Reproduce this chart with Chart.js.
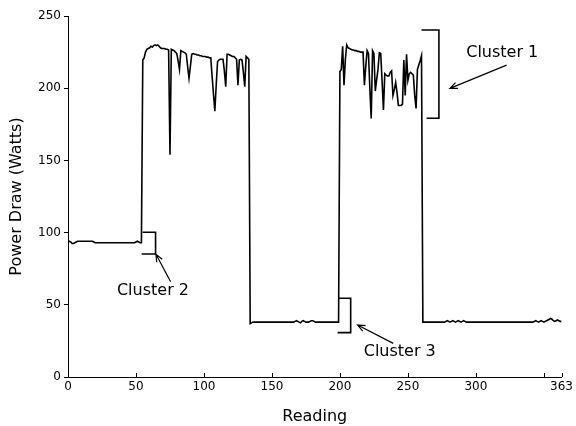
<!DOCTYPE html>
<html>
<head>
<meta charset="utf-8">
<script src="https://cdn.jsdelivr.net/npm/chart.js@4.4.1/dist/chart.umd.min.js"></script>
<style>
  html, body { margin: 0; padding: 0; background: #fff; }
  #wrap { width: 576px; height: 426px; }
</style>
</head>
<body>
<div id="wrap"><canvas id="powerChart" width="576" height="426"></canvas></div>
<script>
// readings 0-54
const idleStart = [
  94, 94, 93.5, 92.5, 92.5, 93, 93.5, 94, 94, 94,
  94, 94, 94, 94, 94, 94, 94, 94, 94, 93.5,
  93, 93, 93, 93, 93, 93, 93, 93, 93, 93,
  93, 93, 93, 93, 93, 93, 93, 93, 93, 93,
  93, 93, 93, 93, 93, 93, 93, 93, 93, 93,
  93.5, 94, 93.5, 93, 93
];
// readings 55-133
const burstOne = [
  219.5, 221, 225, 227, 227.5, 228, 229, 228.5, 229.5, 230,
  229.5, 230, 229, 228, 227.5, 227.5, 227.5, 227, 227, 226.5,
  154, 227, 226.5, 226, 225, 224, 219, 213, 226, 225.5,
  225, 224.5, 223.5, 215, 207, 215, 223.5, 224, 223.5, 223.5,
  223, 223, 222.5, 222.5, 222, 222, 222, 221.5, 221.5, 221,
  221, 208, 196, 184, 202, 218.5, 219.5, 220, 220, 220,
  212, 201, 223.5, 223.5, 223, 222.5, 222, 222, 221, 220,
  202, 219.5, 220, 219.5, 211, 201, 222, 221, 220
];
// readings 134-199
const idleMiddle = [
  37, 37.5, 38, 38, 38, 38, 38, 38, 38, 38,
  38, 38, 38, 38, 38, 38, 38, 38, 38, 38,
  38, 38, 38, 38, 38, 38, 38, 38, 38, 38,
  38, 38, 38, 38.5, 39, 38.5, 38, 37.5, 38.5, 39,
  38.5, 38, 38, 38, 38.5, 39, 39, 38.5, 38, 38,
  38, 38, 38, 38, 38, 38, 38, 38, 38, 38,
  38, 38, 38, 38, 38, 38
];
// readings 200-260
const burstTwo = [
  211.5, 213, 229, 202, 220, 230, 228, 227.5, 227, 226.5,
  226.5, 226, 226, 225.5, 225.5, 225, 225, 225, 202, 215,
  226, 224, 200, 179, 226, 224, 198, 206, 213, 224.5,
  224, 205, 185, 210, 209, 208.5, 208.5, 211, 212, 195,
  199, 204, 197, 188, 188, 188, 189, 219.5, 195, 223.5,
  205.5, 210, 211, 210, 209, 195, 186, 213, 216, 219, 222.5
];
// readings 261-363
const idleEnd = [
  38, 38, 38, 38, 38, 38, 38, 38, 38, 38,
  38, 38, 38, 38, 38, 38, 38, 38.5, 39, 38.5,
  38, 38.5, 39, 38.5, 38, 38.5, 39, 38.5, 38, 38.5,
  39, 38.5, 38, 38, 38, 38, 38, 38, 38, 38,
  38, 38, 38, 38, 38, 38, 38, 38, 38, 38,
  38, 38, 38, 38, 38, 38, 38, 38, 38, 38,
  38, 38, 38, 38, 38, 38, 38, 38, 38, 38,
  38, 38, 38, 38, 38, 38, 38, 38, 38, 38,
  38, 38, 38.5, 39, 38.5, 38, 38.5, 39, 38.5, 38,
  38.5, 39, 39.5, 40, 40.5, 40, 39, 38.5, 39, 39.5,
  39, 38.5, 38.5
];

const xTicks = [0, 50, 100, 150, 200, 250, 300, 350, 363];
const xHiddenLabels = [350];
const yTicks = [0, 50, 100, 150, 200, 250];

// bracket + arrow annotations, in data units
const clusters = [
  { label: 'Cluster 1', topFrom: 260, bottomFrom: 263.7, side: 272.8, top: 240.3, bottom: 179.2,
    arrowFrom: [322.6, 216], arrowTo: [280.9, 199.9], text: [319.4, 224.2] },
  { label: 'Cluster 2', topFrom: 54.9, bottomFrom: 54.2, side: 64.4, top: 100.2, bottom: 85.2,
    arrowFrom: [75.5, 66], arrowTo: [64.7, 85], text: [62.5, 59.8] },
  { label: 'Cluster 3', topFrom: 198.8, bottomFrom: 198.3, side: 207.9, top: 54.5, bottom: 30.7,
    arrowFrom: [239.2, 23.3], arrowTo: [213, 36], text: [244, 17.3] }
];

const power = idleStart.concat(burstOne, idleMiddle, burstTwo, idleEnd);
const points = power.map((v, i) => ({ x: i, y: v }));

const FONT = "'DejaVu Sans', sans-serif";

const clusterPlugin = {
  id: 'clusters',
  afterDraw(chart) {
    const { ctx, scales: { x, y } } = chart;
    ctx.save();
    ctx.strokeStyle = '#000';
    ctx.fillStyle = '#000';

    // inward x tick marks
    ctx.lineWidth = 1;
    ctx.beginPath();
    xTicks.forEach(v => {
      const px = Math.round(x.getPixelForValue(v)) + 0.5;
      ctx.moveTo(px, y.bottom);
      ctx.lineTo(px, y.bottom - 4);
    });
    ctx.stroke();

    clusters.forEach(c => {
      ctx.lineWidth = 1.6;
      ctx.beginPath();
      ctx.moveTo(x.getPixelForValue(c.topFrom), y.getPixelForValue(c.top));
      ctx.lineTo(x.getPixelForValue(c.side), y.getPixelForValue(c.top));
      ctx.lineTo(x.getPixelForValue(c.side), y.getPixelForValue(c.bottom));
      ctx.lineTo(x.getPixelForValue(c.bottomFrom), y.getPixelForValue(c.bottom));
      ctx.stroke();

      const x0 = x.getPixelForValue(c.arrowFrom[0]), y0 = y.getPixelForValue(c.arrowFrom[1]);
      const x1 = x.getPixelForValue(c.arrowTo[0]), y1 = y.getPixelForValue(c.arrowTo[1]);
      const ang = Math.atan2(y1 - y0, x1 - x0);
      ctx.lineWidth = 1.2;
      ctx.beginPath();
      ctx.moveTo(x0, y0);
      ctx.lineTo(x1, y1);
      ctx.moveTo(x1 - 8 * Math.cos(ang - 0.4), y1 - 8 * Math.sin(ang - 0.4));
      ctx.lineTo(x1, y1);
      ctx.lineTo(x1 - 8 * Math.cos(ang + 0.4), y1 - 8 * Math.sin(ang + 0.4));
      ctx.stroke();

      ctx.font = '16px ' + FONT;
      ctx.textAlign = 'center';
      ctx.textBaseline = 'middle';
      ctx.fillText(c.label, x.getPixelForValue(c.text[0]), y.getPixelForValue(c.text[1]));
    });
    ctx.restore();
  }
};

new Chart(document.getElementById('powerChart'), {
  type: 'line',
  data: {
    datasets: [{
      data: points,
      borderColor: '#000',
      borderWidth: 1.6,
      pointRadius: 0,
      tension: 0,
      fill: false
    }]
  },
  options: {
    responsive: false,
    animation: false,
    layout: { padding: { left: 0, right: 14, top: 16, bottom: 0 } },
    plugins: { legend: { display: false }, tooltip: { enabled: false } },
    scales: {
      x: {
        type: 'linear',
        min: 0,
        max: 363,
        afterBuildTicks: axis => { axis.ticks = xTicks.map(v => ({ value: v })); },
        afterFit: axis => { axis.height = 49; },
        ticks: {
          autoSkip: false,
          maxRotation: 0,
          padding: 3,
          color: '#000',
          font: { family: FONT, size: 12 },
          callback: v => (xHiddenLabels.includes(v) ? '' : String(v))
        },
        grid: { display: false, drawTicks: false },
        border: { display: true, color: '#000', width: 1 },
        title: {
          display: true,
          text: 'Reading',
          color: '#000',
          font: { family: FONT, size: 16 },
          padding: { top: 0, bottom: 0 }
        }
      },
      y: {
        min: 0,
        max: 250,
        afterBuildTicks: axis => { axis.ticks = yTicks.map(v => ({ value: v })); },
        afterFit: axis => { axis.width = 68; },
        ticks: {
          padding: 3,
          color: '#000',
          font: { family: FONT, size: 12 }
        },
        grid: { drawOnChartArea: false, drawTicks: true, tickLength: 4, color: '#000' },
        border: { display: true, color: '#000', width: 1 },
        title: {
          display: true,
          text: 'Power Draw (Watts)',
          color: '#000',
          font: { family: FONT, size: 16 },
          padding: { top: 7, bottom: 0 }
        }
      }
    }
  },
  plugins: [clusterPlugin]
});
</script>
</body>
</html>
